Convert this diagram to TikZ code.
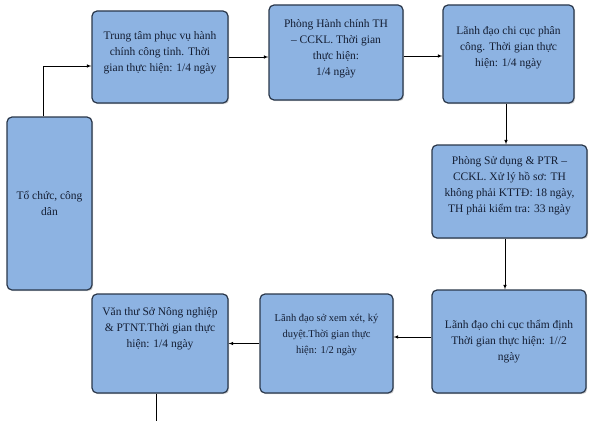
\documentclass[tikz,border=0pt]{standalone}
\usepackage{fontspec}
\setmainfont{Liberation Serif}
\usepackage{tikz}
\usetikzlibrary{calc}
\usetikzlibrary{shadows}
\definecolor{hopxanh}{HTML}{8DB3E2}
\definecolor{vienxanh}{HTML}{2A374A}
\definecolor{chuxanh}{HTML}{141E33}
\tikzset{
  hop/.style={draw=vienxanh,line width=1.2pt,fill=hopxanh,rounded corners=5pt,
    align=center,text=chuxanh,inner sep=2pt,
    font=\fontsize{11.5}{16}\selectfont,
    drop shadow={shadow xshift=1.2pt,shadow yshift=-1.2pt,opacity=0.35}},
  muiten/.style={semithick,->,>=latex},
}

\begin{document}
\begin{tikzpicture}[x=1pt,y=-1pt]
  \useasboundingbox (0,0) rectangle (593,420); %khung hinh

  % cac hop
  \node[hop,minimum width=85pt,minimum height=173pt] (A) at (49.5,203.5)
    {Tổ chức, công\\dân}; %to chuc, cong dan
  \node[hop,minimum width=136pt,minimum height=92pt] (B) at (160,57)
    {Trung tâm phục vụ hành\\chính công tỉnh. Thời\\gian thực hiện: 1/4 ngày\par\vspace{8pt}}; %trung tam
  \node[hop,minimum width=134pt,minimum height=95pt] (C) at (336,52.5)
    {Phòng Hành chính TH\\– CCKL. Thời gian\\thực hiện:\\1/4 ngày\par\vspace{8pt}}; %phong hanh chinh
  \node[hop,minimum width=131pt,minimum height=98pt] (D) at (508.5,54)
    {Lãnh đạo chi cục phân\\công. Thời gian thực\\hiện: 1/4 ngày\par\vspace{12pt}}; %phan cong
  \node[hop,minimum width=155pt,minimum height=93pt] (E) at (509.5,191.5)
    {Phòng Sử dụng \& PTR –\\CCKL. Xử lý hồ sơ: TH\\không phải KTTĐ: 18 ngày,\\TH phải kiểm tra: 33 ngày\par\vspace{12pt}}; %xu ly ho so
  \node[hop,minimum width=154pt,minimum height=103pt] (F) at (509,341.5)
    {Lãnh đạo chi cục thẩm định\\Thời gian thực hiện: 1//2\\ngày}; %tham dinh
  \node[hop,minimum width=133pt,minimum height=99pt,font=\fontsize{10.5}{16}\selectfont] (G) at (326.5,343.5)
    {Lãnh đạo sở xem xét, ký\\duyệt.Thời gian thực\\hiện: 1/2 ngày\par\vspace{18pt}}; %lanh dao so
  \node[hop,minimum width=136pt,minimum height=99pt] (H) at (160,343.5)
    {Văn thư Sở Nông nghiệp\\\& PTNT.Thời gian thực\\hiện: 1/4 ngày\par\vspace{30pt}}; %van thu

  \coordinate (Z) at (156,421); %dau cuoi

  % cac mui ten
  \draw[muiten] ($(A.north)+(-6,0)$) |- ($(B.west)+(0,9)$);
  \draw[muiten] (B.east) -- (B.east -| C.west);
  \draw[muiten] ($(C.east)+(0,3.5)$) -- ($(C.east -| D.west)+(0,3.5)$);
  \draw[muiten] ($(D.south)+(-2.5,0)$) -- ($(D.south |- E.north)+(-2.5,0)$);
  \draw[muiten] ($(E.south)+(-4.5,0)$) -- ($(E.south |- F.north)+(-4.5,0)$);
  \draw[muiten] ($(F.west)+(0,-4.5)$) -- ($(F.west -| G.east)+(0,-4.5)$);
  \draw[muiten] (G.west) -- (G.west -| H.east);
  \draw[semithick] (H.south -| Z) -- (Z);

\end{tikzpicture}
\end{document}
